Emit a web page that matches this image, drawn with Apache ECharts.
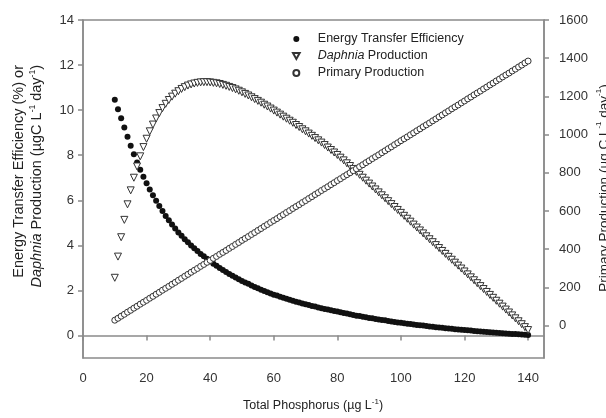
<!DOCTYPE html>
<html>
<head>
<meta charset="utf-8">
<script src="https://cdn.jsdelivr.net/npm/echarts@6.0.0/dist/echarts.min.js"></script>
<style>
  html, body { margin: 0; padding: 0; background: #fff; }
  #chart { width: 606px; height: 418px; }
</style>
</head>
<body>
<div id="chart"></div>
<script>
// total phosphorus (ug/L)
let tp = [
  10, 11, 12, 13, 14, 15, 16, 17, 18, 19,
  20, 21, 22, 23, 24, 25, 26, 27, 28, 29,
  30, 31, 32, 33, 34, 35, 36, 37, 38, 39,
  40, 41, 42, 43, 44, 45, 46, 47, 48, 49,
  50, 51, 52, 53, 54, 55, 56, 57, 58, 59,
  60, 61, 62, 63, 64, 65, 66, 67, 68, 69,
  70, 71, 72, 73, 74, 75, 76, 77, 78, 79,
  80, 81, 82, 83, 84, 85, 86, 87, 88, 89,
  90, 91, 92, 93, 94, 95, 96, 97, 98, 99,
  100, 101, 102, 103, 104, 105, 106, 107, 108, 109,
  110, 111, 112, 113, 114, 115, 116, 117, 118, 119,
  120, 121, 122, 123, 124, 125, 126, 127, 128, 129,
  130, 131, 132, 133, 134, 135, 136, 137, 138, 139, 140
];
// energy transfer efficiency (%)
let transferEff = [
  10.46, 10.04, 9.64, 9.23, 8.82, 8.42, 8.04, 7.68, 7.35, 7.04,
  6.76, 6.48, 6.22, 5.98, 5.75, 5.52, 5.30, 5.11, 4.92, 4.75,
  4.57, 4.43, 4.27, 4.14, 3.99, 3.87, 3.75, 3.62, 3.51, 3.40,
  3.29, 3.18, 3.09, 2.99, 2.90, 2.82, 2.73, 2.65, 2.57, 2.50,
  2.42, 2.35, 2.29, 2.22, 2.15, 2.09, 2.03, 1.97, 1.92, 1.86,
  1.81, 1.77, 1.72, 1.67, 1.63, 1.58, 1.54, 1.50, 1.46, 1.42,
  1.39, 1.35, 1.31, 1.28, 1.24, 1.21, 1.18, 1.15, 1.12, 1.09,
  1.06, 1.03, 1.00, 0.97, 0.94, 0.91, 0.88, 0.86, 0.83, 0.81,
  0.78, 0.76, 0.73, 0.71, 0.69, 0.67, 0.64, 0.62, 0.60, 0.58,
  0.56, 0.54, 0.52, 0.51, 0.49, 0.47, 0.45, 0.44, 0.42, 0.40,
  0.39, 0.37, 0.35, 0.34, 0.32, 0.31, 0.30, 0.28, 0.27, 0.25,
  0.24, 0.23, 0.22, 0.20, 0.19, 0.18, 0.17, 0.15, 0.14, 0.13,
  0.12, 0.11, 0.10, 0.09, 0.08, 0.07, 0.06, 0.05, 0.04, 0.03, 0.02
];
// Daphnia production (ugC/L/day)
let daphniaProd = [
  2.56, 3.50, 4.36, 5.13, 5.82, 6.44, 7.00, 7.50, 7.95, 8.36,
  8.73, 9.06, 9.36, 9.63, 9.87, 10.09, 10.28, 10.45, 10.60, 10.73,
  10.84, 10.94, 11.02, 11.09, 11.14, 11.18, 11.21, 11.23, 11.24, 11.24,
  11.23, 11.21, 11.19, 11.16, 11.12, 11.08, 11.03, 10.98, 10.92, 10.86,
  10.79, 10.72, 10.65, 10.57, 10.49, 10.41, 10.33, 10.24, 10.16, 10.07,
  9.98, 9.89, 9.80, 9.71, 9.62, 9.53, 9.44, 9.34, 9.25, 9.15,
  9.06, 8.96, 8.86, 8.76, 8.66, 8.56, 8.45, 8.34, 8.23, 8.12,
  8.01, 7.89, 7.77, 7.64, 7.52, 7.39, 7.26, 7.13, 7.00, 6.87,
  6.74, 6.61, 6.48, 6.35, 6.22, 6.09, 5.96, 5.83, 5.70, 5.57,
  5.44, 5.31, 5.18, 5.05, 4.92, 4.79, 4.66, 4.53, 4.40, 4.27,
  4.14, 4.01, 3.88, 3.75, 3.62, 3.49, 3.36, 3.23, 3.10, 2.97,
  2.84, 2.71, 2.58, 2.45, 2.32, 2.19, 2.06, 1.93, 1.80, 1.67,
  1.54, 1.41, 1.28, 1.15, 1.02, 0.89, 0.76, 0.63, 0.50, 0.37, 0.24
];
// primary production (ugC/L/day), right axis
let primaryProd = [
  28, 38, 49, 59, 70, 80, 91, 101, 112, 122,
  132, 143, 153, 164, 174, 185, 195, 205, 216, 226,
  237, 247, 258, 268, 279, 289, 299, 310, 320, 331,
  341, 352, 362, 373, 383, 393, 404, 414, 425, 435,
  446, 456, 466, 477, 487, 498, 508, 519, 529, 540,
  550, 560, 571, 581, 592, 602, 613, 623, 633, 644,
  654, 665, 675, 686, 696, 707, 717, 727, 738, 748,
  759, 769, 780, 790, 800, 811, 821, 832, 842, 853,
  863, 874, 884, 894, 905, 915, 926, 936, 947, 957,
  968, 978, 988, 999, 1009, 1020, 1030, 1041, 1051, 1061,
  1072, 1082, 1093, 1103, 1114, 1124, 1135, 1145, 1155, 1166,
  1176, 1187, 1197, 1208, 1218, 1228, 1239, 1249, 1260, 1270,
  1281, 1291, 1302, 1312, 1322, 1333, 1343, 1354, 1364, 1375, 1385
];

// tick labels
let xTicks = [0, 20, 40, 60, 80, 100, 120, 140];
let leftTicks = [0, 2, 4, 6, 8, 10, 12, 14];
let rightTicks = [0, 200, 400, 600, 800, 1000, 1200, 1400, 1600];

let font = "Liberation Sans, Arial, sans-serif";
let axisGray = "#8a8a8a";
let labelColor = "#333";
// downward triangle for the legend (series uses symbolRotate)
let downTriangle = "path://M0,0 L10,0 L5,9 Z";

let myChart = echarts.init(document.getElementById("chart"), null, { renderer: "canvas" });

let option = {
  animation: false,
  backgroundColor: "#fff",
  grid: {
    left: 83,
    right: 62,
    top: 20,
    bottom: 60,
    show: true,
    borderColor: axisGray,
    borderWidth: 1.5,
    containLabel: false
  },
  legend: {
    orient: "vertical",
    left: 287,
    top: 27,
    itemWidth: 7,
    itemHeight: 6,
    itemGap: 3,
    textStyle: {
      fontFamily: font,
      fontSize: 12.5,
      color: "#222",
      lineHeight: 14,
      padding: [0, 0, 0, 13],
      rich: {
        i: { fontStyle: "italic", fontFamily: font, fontSize: 12.5, color: "#222" }
      }
    },
    formatter: function(name) {
      if (name === "Daphnia Production") return "{i|Daphnia} Production";
      return name;
    },
    data: [
      { name: "Energy Transfer Efficiency", icon: "circle" },
      { name: "Daphnia Production", icon: downTriangle },
      { name: "Primary Production", icon: "circle" }
    ]
  },
  xAxis: {
    type: "value",
    min: 0,
    max: 145,
    axisLine: { show: true, lineStyle: { color: axisGray, width: 1.5 } },
    axisTick: { show: true, length: 5, lineStyle: { color: axisGray, width: 1.5 }, customValues: xTicks },
    axisLabel: { color: labelColor, fontFamily: font, fontSize: 13, margin: 14, customValues: xTicks },
    splitLine: { show: false }
  },
  yAxis: [
    {
      type: "value",
      position: "left",
      min: -1,
      max: 14,
      axisLine: { show: true, lineStyle: { color: axisGray, width: 1.5 } },
      axisTick: { show: true, length: 5, lineStyle: { color: axisGray, width: 1.5 }, customValues: leftTicks },
      axisLabel: { color: labelColor, fontFamily: font, fontSize: 13, margin: 9, customValues: leftTicks },
      splitLine: { show: false }
    },
    {
      type: "value",
      position: "right",
      min: -170,
      max: 1600,
      axisLine: { show: true, lineStyle: { color: axisGray, width: 1.5 } },
      axisTick: { show: true, length: 5, lineStyle: { color: axisGray, width: 1.5 }, customValues: rightTicks },
      axisLabel: {
        color: labelColor,
        fontFamily: font,
        fontSize: 13,
        margin: 15,
        customValues: rightTicks,
        formatter: function(v) {
          return String(v);
        }
      },
      splitLine: { show: false }
    }
  ],
  graphic: [
    {
      // left axis title, two lines, reads bottom to top
      type: "text",
      x: 28,
      y: 65,
      rotation: Math.PI / 2,
      style: {
        text: "{a|Energy Transfer Efficiency (%) or}\n{i|Daphnia}{a| Production (µgC L}{s|-1}{a| day}{s|-1}{a|)}",
        align: "right",
        verticalAlign: "middle",
        fill: "#222",
        rich: {
          a: { fontSize: 14.5, fontFamily: font, fill: "#222", lineHeight: 18 },
          i: { fontSize: 14.5, fontFamily: font, fontStyle: "italic", fill: "#222", lineHeight: 18 },
          s: { fontSize: 8.5, fontFamily: font, fill: "#222", verticalAlign: "top", lineHeight: 18 }
        }
      }
    },
    {
      // right axis title, runs off the page edge like the original
      type: "text",
      x: 604,
      y: 188,
      rotation: Math.PI / 2,
      style: {
        text: "{a|Primary Production (µg C L}{s|-1}{a| day}{s|-1}{a|)}",
        align: "center",
        verticalAlign: "middle",
        fill: "#222",
        rich: {
          a: { fontSize: 13.5, fontFamily: font, fill: "#222", lineHeight: 18 },
          s: { fontSize: 8, fontFamily: font, fill: "#222", verticalAlign: "top", lineHeight: 18 }
        }
      }
    },
    {
      type: "text",
      x: 313,
      y: 406,
      style: {
        text: "{a|Total Phosphorus (µg L}{s|-1}{a|)}",
        align: "center",
        verticalAlign: "middle",
        fill: "#222",
        rich: {
          a: { fontSize: 12.5, fontFamily: font, fill: "#222", lineHeight: 16 },
          s: { fontSize: 8, fontFamily: font, fill: "#222", verticalAlign: "top", lineHeight: 16 }
        }
      }
    }
  ],
  series: [
    {
      name: "Energy Transfer Efficiency",
      type: "scatter",
      yAxisIndex: 0,
      symbol: "circle",
      symbolSize: 6,
      itemStyle: { color: "#111", opacity: 1 },
      data: tp.map((x, i) => [x, transferEff[i]])
    },
    {
      name: "Daphnia Production",
      type: "scatter",
      yAxisIndex: 0,
      symbol: "triangle",
      symbolRotate: 180,
      symbolSize: 7,
      itemStyle: { color: "#fff", borderColor: "#333", borderWidth: 1, opacity: 1 },
      data: tp.map((x, i) => [x, daphniaProd[i]])
    },
    {
      name: "Primary Production",
      type: "scatter",
      yAxisIndex: 1,
      symbol: "circle",
      symbolSize: 6,
      itemStyle: { color: "#fff", borderColor: "#333", borderWidth: 1, opacity: 1 },
      data: tp.map((x, i) => [x, primaryProd[i]])
    }
  ]
};

myChart.setOption(option);
window.addEventListener("resize", () => {
  myChart.resize();
});
</script>
</body>
</html>
